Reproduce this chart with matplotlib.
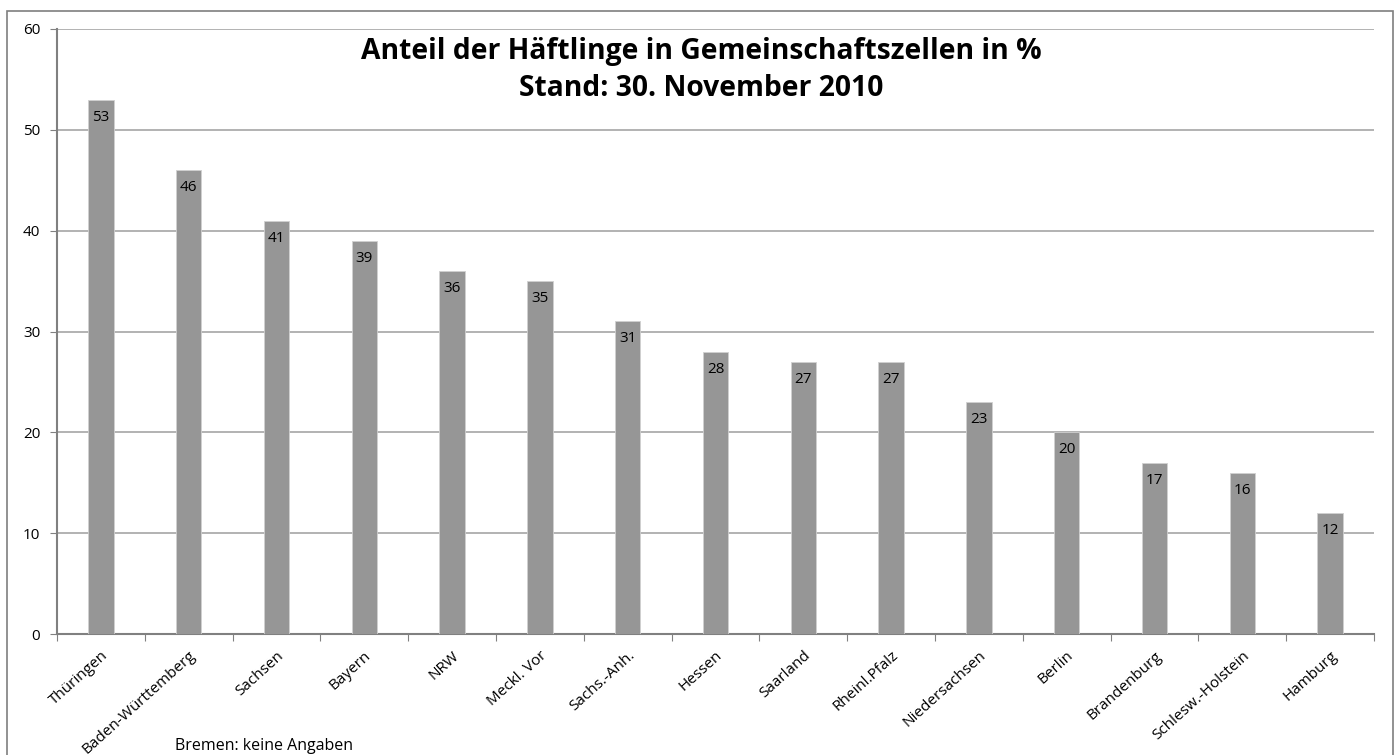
import matplotlib.pyplot as plt
from matplotlib.patches import Rectangle

# Data
laender = ['Thüringen', 'Baden-Württemberg', 'Sachsen', 'Bayern', 'NRW', 'Meckl. Vor',
           'Sachs.-Anh.', 'Hessen', 'Saarland', 'Rheinl.Pfalz', 'Niedersachsen', 'Berlin',
           'Brandenburg', 'Schlesw.-Holstein', 'Hamburg']
anteil = [53, 46, 41, 39, 36, 35, 31, 28, 27, 27, 23, 20, 17, 16, 12]
y_ticks = [0, 10, 20, 30, 40, 50, 60]

plt.rcParams['font.family'] = ['Open Sans', 'DejaVu Sans']

W, H = 1397, 755
fig = plt.figure(figsize=(W / 100, H / 100), dpi=100)
ax = fig.add_axes([57 / W, 1 - 634 / H, (1374 - 57) / W, (634 - 29) / H])

# outer chart frame (bottom edge is outside the picture)
fig.patches.append(Rectangle((7 / W, -0.05), (1393 - 7) / W, (H - 11) / H + 0.05,
                             transform=fig.transFigure, fill=False,
                             edgecolor='#7f7f7f', linewidth=1.2))

x = list(range(len(laender)))
ax.bar(x, anteil, width=0.29, color='#969696', edgecolor='#d0d0d0',
       linewidth=0.6, zorder=3)

for xi, v in zip(x, anteil):
    ax.text(xi, v - 1.0, str(v), ha='center', va='top', fontsize=11,
            color='black', zorder=4)

ax.set_xlim(-0.5, len(laender) - 0.5)
ax.set_ylim(0, 60)
ax.set_yticks(y_ticks)
ax.tick_params(axis='y', labelsize=11, length=5, color='#808080', pad=7)
ax.yaxis.grid(True, color='#a6a6a6', linewidth=1.2, zorder=0)

ax.set_xticks([i - 0.5 for i in range(len(laender) + 1)])
ax.set_xticklabels([])
ax.tick_params(axis='x', length=5, color='#808080', direction='out')
for xi, name in zip(x, laender):
    ax.text(xi, -1.4, name, rotation=42, ha='right', va='top', rotation_mode='anchor',
            fontsize=11, transform=ax.transData)

for side in ['top', 'right']:
    ax.spines[side].set_visible(False)
for side in ['left', 'bottom']:
    ax.spines[side].set_color('#808080')
    ax.spines[side].set_linewidth(1.5)

fig.text(701 / W, 1 - 52 / H, 'Anteil der Häftlinge in Gemeinschaftszellen in %',
         ha='center', va='center', fontsize=20.3, fontweight='bold')
fig.text(701 / W, 1 - 88 / H, 'Stand: 30. November 2010',
         ha='center', va='center', fontsize=20.3, fontweight='bold')

fig.text(175 / W, 1 - 746 / H, 'Bremen: keine Angaben', ha='left', va='center', fontsize=11.5)

fig.savefig('out.png', dpi=100)
